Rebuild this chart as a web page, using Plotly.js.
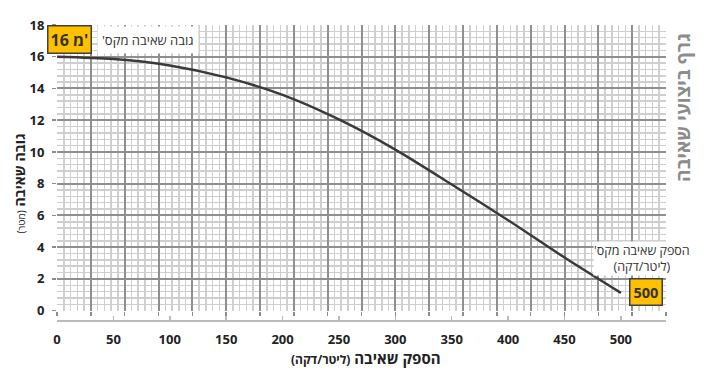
<!DOCTYPE html>
<html>
<head>
<meta charset="utf-8">
<script src="https://cdn.plot.ly/plotly-3.0.1.min.js"></script>
<style>html,body{margin:0;padding:0;background:#fff}#chart{width:709px;height:384px}</style>
</head>
<body>
<div id="chart"></div>
<script>
// Data
const flow = [0, 50, 100, 150, 200, 250, 300, 350, 400, 450, 500];
const head = [16.0, 15.85, 15.45, 14.7, 13.6, 12.05, 10.15, 7.95, 5.7, 3.35, 1.12];
const xTicks = [0, 50, 100, 150, 200, 250, 300, 350, 400, 450, 500];
const yTicks = [0, 2, 4, 6, 8, 10, 12, 14, 16, 18];
const maxHeadLabel = "16 מ'";
const maxHeadText = "גובה שאיבה מקס'\u200F";
const maxFlowLabel = "500";
const maxFlowText = "הספק שאיבה מקס'\u200F<br>(ליטר/דקה)";
const chartTitle = "גרף ביצועי שאיבה";
const yTitle = "<b>גובה שאיבה</b> <span style='font-size:10px'>(מטר)</span>";
const xTitle = "הספק שאיבה <span style='font-size:12px'>(ליטר/דקה)</span>";

const FONT = "Open Sans, DejaVu Sans, sans-serif";
const xMax = 540, yMax = 18;

const traces = [
  {x: flow, y: head, xaxis: 'x', yaxis: 'y', type: 'scatter', mode: 'lines',
   line: {color: '#3a3a3a', width: 2.5, shape: 'spline', smoothing: 0.8},
   hoverinfo: 'skip', showlegend: false},
  {x: [0], y: [0], xaxis: 'x2', yaxis: 'y', type: 'scatter', mode: 'none',
   hoverinfo: 'skip', showlegend: false}
];

const layout = {
  width: 709, height: 384,
  margin: {l: 57, r: 43, t: 25, b: 63},
  paper_bgcolor: '#ffffff', plot_bgcolor: '#ffffff',
  showlegend: false,
  font: {family: FONT, color: '#222'},
  xaxis: {
    range: [0, xMax], anchor: 'free', position: 0,
    tickvals: xTicks, ticks: 'inside', ticklen: 4, tickwidth: 1.5, tickcolor: '#bbbbbb',
    showline: true, linecolor: '#bbbbbb', linewidth: 2,
    showgrid: false, zeroline: false,
    tickfont: {family: FONT, size: 13, color: '#222', weight: 700},
    ticklabelstandoff: 6
  },
  xaxis2: {
    range: [0, xMax], overlaying: 'x', anchor: 'y', side: 'bottom',
    dtick: 30, tick0: 0, ticks: 'outside', ticklen: 4, tickwidth: 1.5, tickcolor: '#8c8c8c',
    showticklabels: false, showline: false, zeroline: false,
    showgrid: true, gridcolor: '#8f8f8f', gridwidth: 2,
    minor: {dtick: 6, tick0: 0, showgrid: true, gridcolor: '#cfcfcf', gridwidth: 1.5, ticks: ''}
  },
  yaxis: {
    range: [0, yMax], domain: [0.035, 1], anchor: 'x2',
    tickvals: yTicks, ticks: 'outside', ticklen: 4, tickwidth: 1.5, tickcolor: '#8c8c8c',
    showgrid: true, gridcolor: '#8f8f8f', gridwidth: 2,
    minor: {dtick: 0.4, tick0: 0, showgrid: true, gridcolor: '#cfcfcf', gridwidth: 1.5, ticks: ''},
    zeroline: false, showline: false,
    tickfont: {family: FONT, size: 13, color: '#222', weight: 700},
    ticklabelstandoff: 5
  },
  annotations: [
    {xref: 'x', yref: 'y', x: 10.9, y: 17.06, text: '<b>' + maxHeadLabel + '</b>', showarrow: false,
     font: {family: FONT, size: 16, color: '#333'}, bgcolor: '#FFC000', bordercolor: '#3f3f3f',
     borderwidth: 1.5, borderpad: 2},
    {xref: 'x', yref: 'y', x: 80.5, y: 17.06, text: maxHeadText, showarrow: false,
     font: {family: FONT, size: 13, color: '#333'}, bgcolor: '#ffffff', borderpad: 4},
    {xref: 'x', yref: 'y', x: 522, y: 1.2, text: '<b>' + maxFlowLabel + '</b>', showarrow: false,
     font: {family: FONT, size: 14.5, color: '#333'}, bgcolor: '#FFC000', bordercolor: '#3f3f3f',
     borderwidth: 1.5, borderpad: 3},
    {xref: 'paper', yref: 'paper', x: 0.96, y: 0.211, xanchor: 'center', yanchor: 'middle',
     text: maxFlowText, showarrow: false, align: 'center',
     font: {family: FONT, size: 12.5, color: '#333'}, bgcolor: '#ffffff', borderpad: 0},
    {xref: 'paper', yref: 'paper', x: 1.028, y: 0.72, xanchor: 'center', yanchor: 'middle',
     text: '<b>' + chartTitle + '</b>', textangle: -90, showarrow: false,
     font: {family: FONT, size: 19, color: '#8c8c8c'}},
    {xref: 'paper', yref: 'paper', x: -0.062, y: 0.465, xanchor: 'center', yanchor: 'middle',
     text: yTitle, textangle: -90, showarrow: false,
     font: {family: FONT, size: 14, color: '#222'}},
    {xref: 'paper', yref: 'paper', x: 0.508, y: -0.125, xanchor: 'center', yanchor: 'middle',
     text: '<b>' + xTitle + '</b>', showarrow: false,
     font: {family: FONT, size: 15, color: '#222'}}
  ]
};

Plotly.newPlot('chart', traces, layout, {staticPlot: true, displayModeBar: false});
</script>
</body>
</html>
